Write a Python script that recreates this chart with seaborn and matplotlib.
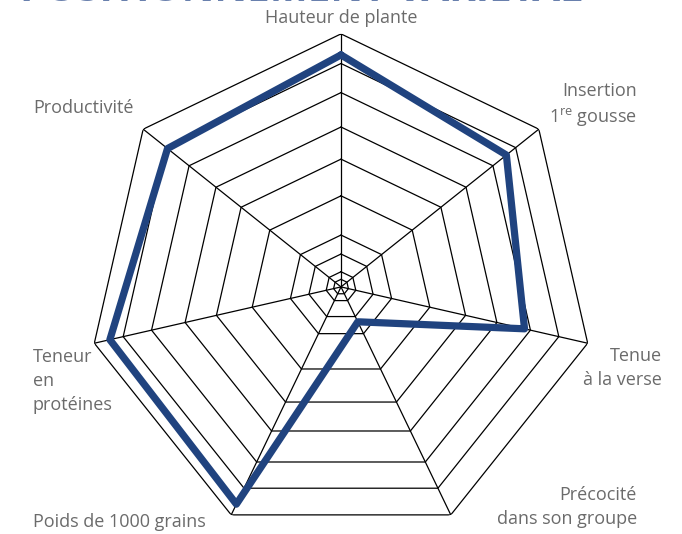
import numpy as np
import matplotlib
matplotlib.use('Agg')
import matplotlib.pyplot as plt
import seaborn as sns

criteres = ['Hauteur de plante', 'Insertion 1re gousse', 'Tenue à la verse',
            'Précocité dans son groupe', 'Poids de 1000 grains',
            'Teneur en protéines', 'Productivité']
valeurs = [0.917, 0.836, 0.744, 0.153, 0.953, 0.937, 0.877]
niveaux = [0.03, 0.06, 0.13, 0.205, 0.36, 0.505, 0.632, 0.768, 0.883, 1.0]
titre = 'POSITIONNEMENT VARIÉTAL'

sns.set_theme(style='white')
plt.rcParams['font.family'] = ['Open Sans', 'DejaVu Sans']

n = len(criteres)
angles = np.arange(n) * 2 * np.pi / n
angles_fermes = np.append(angles, 2 * np.pi)

fig = plt.figure(figsize=(6.82, 5.34), dpi=100)
ax = fig.add_axes([0.129, -0.0113, 0.742, 0.948], projection='polar')
ax.set_theta_zero_location('N')
ax.set_theta_direction(-1)
ax.set_ylim(0, 1)
ax.set_xticks([])
ax.set_yticks([])
ax.grid(False)
ax.spines['polar'].set_visible(False)
ax.patch.set_alpha(0)

# grille heptagonale
for r in niveaux:
    ax.plot(angles_fermes, [r] * (n + 1), color='black', lw=0.9, zorder=1)
for a in angles:
    ax.plot([a, a], [0, 1], color='black', lw=0.9, zorder=1)

sns.lineplot(x=angles_fermes, y=valeurs + valeurs[:1], sort=False, estimator=None,
             color='#20437f', lw=5.2, ax=ax, zorder=3)
ax.set_xlabel('')
ax.set_ylabel('')
ax.set_ylim(0, 1)

gris = '#6b6b6b'
fs = 13
W, H = 682, 534
def txt(x, y, s, ha, ls=1.42):
    fig.text(x / W, 1 - y / H, s, ha=ha, va='center', color=gris,
             fontsize=fs, linespacing=ls)

# titre coupé en haut de l'image (seul le bas des lettres est visible)
fig.text(20 / W, 1 - 1.2 / H, titre, ha='left', va='baseline', color='#2a4a8a',
         fontsize=29, fontweight='bold', alpha=0.7)

txt(341, 18, 'Hauteur de plante', 'center')
txt(637, 105, 'Insertion\n' + r'$\mathregular{1^{re}}$ gousse', 'right')
txt(662, 368, 'Tenue\nà la verse', 'right')
txt(637, 507, 'Précocité\ndans son groupe', 'right')
txt(33, 522, 'Poids de 1000 grains', 'left')
txt(33, 381, 'Teneur\nen\nprotéines', 'left')
txt(33, 108, 'Productivité', 'left')

fig.savefig('out.png', dpi=100)
